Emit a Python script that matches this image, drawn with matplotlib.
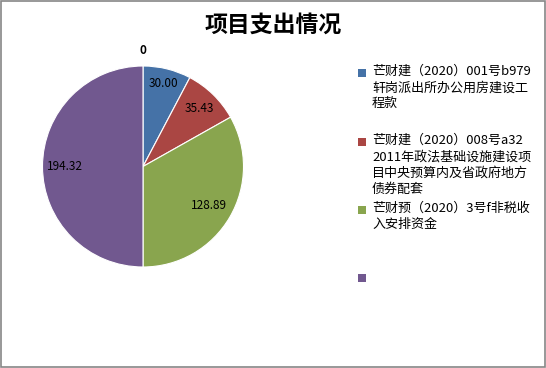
import numpy as np
import matplotlib.pyplot as plt
from matplotlib.patches import Rectangle

plt.rcParams['font.family'] = ['Noto Sans CJK SC', 'DejaVu Sans']

title = '项目支出情况'
values = [30.00, 35.43, 128.89, 194.32]
value_labels = ['30.00', '35.43', '128.89', '194.32']
legend_labels = [
    '芒财建（2020）001号b979\n轩岗派出所办公用房建设工\n程款',
    '芒财建（2020）008号a32\n2011年政法基础设施建设项\n目中央预算内及省政府地方\n债券配套',
    '芒财预（2020）3号f非税收\n入安排资金',
    '',
]
top_label = '0'
colors = ['#4572A7', '#AA4643', '#89A54E', '#71588F']

W, H = 546, 368
fig = plt.figure(figsize=(W / 100, H / 100), dpi=100)

# pie: centre (143, 166.5) px, radius 100.5 px
cx, cy, r = 143, 166.5, 100.5
ax = fig.add_axes([(cx - r) / W, (H - cy - r) / H, 2 * r / W, 2 * r / H])
wedges, _ = ax.pie(values, colors=colors, startangle=90, counterclock=False,
                   radius=1, wedgeprops=dict(edgecolor='white', linewidth=0.8))
ax.set_xlim(-1, 1)
ax.set_ylim(-1, 1)
ax.set_aspect('equal')
ax.axis('off')

label_dist = [0.85, 0.8, 0.76, 0.78]
for w, txt, d in zip(wedges, value_labels, label_dist):
    ang = np.deg2rad((w.theta1 + w.theta2) / 2)
    ax.text(d * np.cos(ang), d * np.sin(ang), txt, ha='center', va='center',
            fontsize=8.5, color='black')

fig.text(cx / W, 1 - 50 / H, top_label, ha='center', va='center',
         fontsize=8.5, fontweight='bold')

fig.text(273 / W, 1 - 25 / H, title, ha='center', va='center',
         fontsize=16.5, fontweight='bold')

# legend drawn by hand to match the irregular spacing
legend_y = [73, 142, 210, 278]
for lab, col, y in zip(legend_labels, colors, legend_y):
    fig.patches.append(Rectangle((358 / W, 1 - (y + 4) / H), 8 / W, 8 / H,
                                 transform=fig.transFigure, facecolor=col,
                                 edgecolor='none'))
    fig.text(372 / W, 1 - (y - 8) / H, lab, ha='left', va='top',
             fontsize=9.4, linespacing=1.32)

fig.patches.append(Rectangle((1 / W, 1 / H), (W - 2) / W, (H - 2) / H,
                             transform=fig.transFigure, facecolor='none',
                             edgecolor='#868686', linewidth=1.2))

fig.savefig('out.png', dpi=100)
